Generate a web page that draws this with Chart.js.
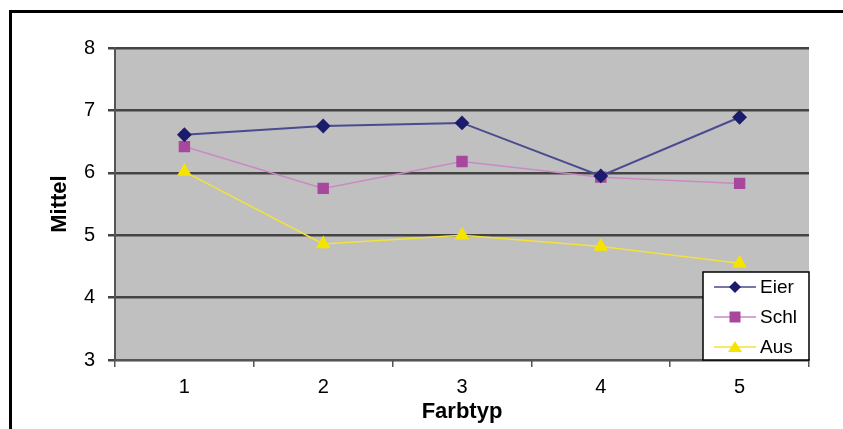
<!DOCTYPE html>
<html>
<head>
<meta charset="utf-8">
<script src="https://cdn.jsdelivr.net/npm/chart.js@4/dist/chart.umd.min.js"></script>
<style>
  html, body { margin: 0; padding: 0; background: #fff; }
  #wrap { width: 843px; height: 429px; }
</style>
</head>
<body>
<div id="wrap"><canvas id="chart" width="843" height="429"></canvas></div>
<script>
// data
var categories = ['1', '2', '3', '4', '5'];
var eier = [6.61, 6.75, 6.80, 5.95, 6.89];
var schl = [6.42, 5.75, 6.18, 5.93, 5.83];
var aus  = [6.02, 4.86, 5.00, 4.82, 4.55];

var FONT = 'Arial, "Liberation Sans", sans-serif';

// gray plot area + outer frame
var bgPlugin = {
    id: 'bg',
    beforeDraw: function(chart) {
        var c = chart.ctx, a = chart.chartArea;
        c.save();
        c.fillStyle = '#c0c0c0';
        c.fillRect(a.left, a.top, a.right - a.left, a.bottom - a.top);
        c.restore();
    },
    afterDraw: function(chart) {
        var c = chart.ctx;
        c.save();
        c.strokeStyle = '#000';
        c.lineWidth = 3;
        c.strokeRect(10.5, 11.5, 900, 500);
        c.restore();
    }
};

// legend box in the bottom right corner of the plot
var boxLegend = {
    id: 'boxLegend',
    afterDatasetsDraw: function(chart) {
        var c = chart.ctx, a = chart.chartArea;
        var w = 106, h = 88;
        var x = a.right - w, y = a.bottom - h;
        c.save();
        c.fillStyle = '#fff';
        c.fillRect(x, y, w, h);
        c.strokeStyle = '#000';
        c.lineWidth = 1.5;
        c.strokeRect(x, y, w, h);
        chart.data.datasets.forEach(function(ds, i) {
            var yy = y + 15 + i * 30;
            c.strokeStyle = ds.borderColor;
            c.lineWidth = 1.5;
            c.beginPath();
            c.moveTo(x + 11, yy);
            c.lineTo(x + 53, yy);
            c.stroke();
            c.fillStyle = ds.pointBackgroundColor;
            var r = 6;
            c.beginPath();
            if (ds.pointStyle === 'rectRot') {
                c.moveTo(x + 32, yy - r); c.lineTo(x + 32 + r, yy);
                c.lineTo(x + 32, yy + r); c.lineTo(x + 32 - r, yy);
            } else if (ds.pointStyle === 'rect') {
                c.rect(x + 32 - 5.5, yy - 5.5, 11, 11);
            } else {
                c.moveTo(x + 32, yy - 6); c.lineTo(x + 39, yy + 5); c.lineTo(x + 25, yy + 5);
            }
            c.closePath();
            c.fill();
            c.fillStyle = '#000';
            c.font = '19px ' + FONT;
            c.textBaseline = 'middle';
            c.fillText(ds.label, x + 57, yy + 1);
        });
        c.restore();
    }
};

var ctx = document.getElementById('chart').getContext('2d');
var myChart = new Chart(ctx, {
    type: 'line',
    data: {
        labels: categories,
        datasets: [{
            label: 'Eier',
            data: eier,
            borderColor: '#4a4a90',
            pointBackgroundColor: '#1c1c6c',
            pointBorderColor: '#1c1c6c',
            pointStyle: 'rectRot',
            pointRadius: 6,
            borderWidth: 2
        }, {
            label: 'Schl',
            data: schl,
            borderColor: '#c98ac4',
            pointBackgroundColor: '#a8479e',
            pointBorderColor: '#a8479e',
            pointStyle: 'rect',
            pointRadius: 7,
            borderWidth: 1.5
        }, {
            label: 'Aus',
            data: aus,
            borderColor: '#f2e23a',
            pointBackgroundColor: '#f5e400',
            pointBorderColor: '#f5e400',
            pointStyle: 'triangle',
            pointRadius: 7,
            borderWidth: 1.5
        }]
    },
    options: {
        responsive: false,
        animation: false,
        layout: { padding: { left: 47, top: 48, right: 34, bottom: 0 } },
        plugins: {
            legend: { display: false },
            tooltip: { enabled: false }
        },
        scales: {
            x: {
                offset: true,
                grid: { offset: true, drawOnChartArea: false, drawTicks: true, tickLength: 7, color: '#555', lineWidth: 1.5 },
                border: { color: '#555', width: 2 },
                ticks: { color: '#000', font: { family: FONT, size: 20 }, padding: 8 },
                title: { display: true, text: 'Farbtyp', color: '#000', font: { family: FONT, size: 22, weight: 'bold' }, padding: { top: 0, bottom: 4 } },
                afterFit: function(s) { s.height = 69; }
            },
            y: {
                min: 3, max: 8,
                ticks: { stepSize: 1, color: '#000', font: { family: FONT, size: 20 }, padding: 13 },
                grid: { color: '#444', lineWidth: 2.5, tickLength: 7 },
                border: { color: '#555', width: 2 },
                title: { display: true, text: 'Mittel', color: '#000', font: { family: FONT, size: 22, weight: 'bold' }, padding: { top: 0, bottom: 0 } },
                afterFit: function(s) { s.width = 68; }
            }
        }
    },
    plugins: [bgPlugin, boxLegend]
});
</script>
</body>
</html>
